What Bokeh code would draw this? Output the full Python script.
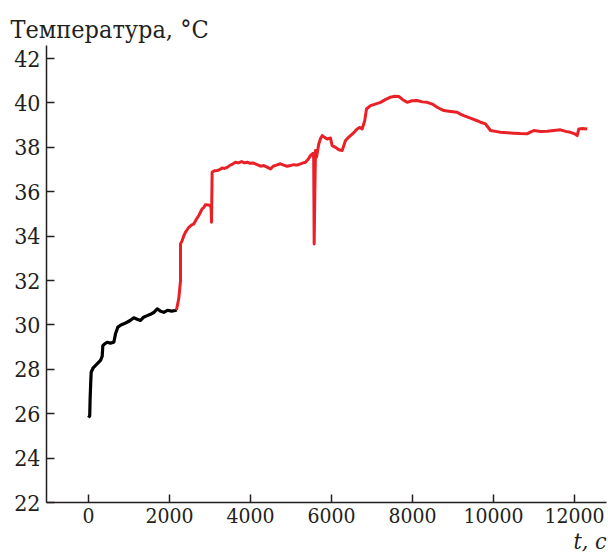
from bokeh.plotting import figure
from bokeh.models import Range1d, FixedTicker, Title
from bokeh.embed import file_html
from bokeh.resources import INLINE

# ---- data ----
t_black = [0, 30, 40, 55, 66, 116, 200, 296, 338, 354, 400, 461, 540, 625, 667, 724,
           800, 872, 950, 1030, 1119, 1200, 1284, 1360, 1449, 1530, 1610, 1696, 1780,
           1860, 1950, 2050, 2148, 2173]
T_black = [25.82, 25.9, 26.67, 27.4, 27.87, 28.07, 28.22, 28.4, 28.58, 29.07, 29.15, 29.22,
           29.18, 29.22, 29.6, 29.9, 30.0, 30.05, 30.12, 30.2, 30.32, 30.26, 30.2, 30.35,
           30.42, 30.48, 30.56, 30.72, 30.62, 30.57, 30.66, 30.62, 30.65, 30.68]

t_red = [2173, 2230, 2272, 2272, 2313, 2350, 2395, 2440, 2477, 2540, 2600, 2660, 2723,
         2770, 2806, 2850, 2889, 2950, 3012, 3030, 3037, 3053, 3110, 3177, 3240, 3300,
         3360, 3424, 3500, 3560, 3630, 3700, 3780, 3850, 3917, 3990, 4060, 4164, 4250,
         4330, 4420, 4494, 4560, 4640, 4741, 4820, 4900, 4988, 5060, 5150, 5235, 5300,
         5358, 5420, 5481, 5520, 5547, 5560, 5572, 5588, 5605, 5630, 5687, 5730, 5770,
         5830, 5893, 5975, 6016, 6100, 6181, 6263, 6346, 6420, 6510, 6570, 6634, 6700,
         6757, 6820, 6864, 6963, 7080, 7210, 7330, 7457, 7560, 7662, 7760, 7868, 7990,
         8115, 8240, 8362, 8490, 8609, 8700, 8773, 8940, 9103, 9180, 9267, 9430, 9597,
         9700, 9802, 9926, 10050, 10173, 10340, 10502, 10660, 10831, 10920, 10996,
         11160, 11325, 11490, 11654, 11780, 11901, 11990, 12066, 12107, 12200, 12313]
T_red = [30.68, 31.2, 32.0, 33.65, 33.8, 34.0, 34.18, 34.3, 34.4, 34.5, 34.55, 34.75, 34.93,
         35.1, 35.23, 35.3, 35.42, 35.4, 35.38, 35.2, 34.63, 36.88, 36.95, 36.96, 37.0,
         37.07, 37.05, 37.1, 37.2, 37.25, 37.33, 37.3, 37.36, 37.3, 37.33, 37.28, 37.3,
         37.22, 37.15, 37.18, 37.1, 37.03, 37.15, 37.2, 37.26, 37.2, 37.15, 37.18, 37.22,
         37.2, 37.26, 37.3, 37.33, 37.45, 37.63, 37.7, 37.73, 37.5, 33.65, 35.9, 37.86,
         37.55, 38.16, 38.4, 38.53, 38.45, 38.38, 38.42, 38.08, 38.0, 37.89, 37.86, 38.31,
         38.45, 38.6, 38.7, 38.83, 38.9, 38.83, 39.2, 39.73, 39.88, 39.95, 40.03, 40.15,
         40.26, 40.3, 40.29, 40.15, 40.03, 40.1, 40.11, 40.05, 40.03, 39.95, 39.81, 39.72,
         39.66, 39.62, 39.58, 39.5, 39.43, 39.32, 39.2, 39.12, 39.06, 38.76, 38.72, 38.68,
         38.66, 38.64, 38.62, 38.61, 38.7, 38.76, 38.72, 38.73, 38.76, 38.79, 38.72, 38.68,
         38.62, 38.53, 38.83, 38.85, 38.83]

y_ticks = [22, 24, 26, 28, 30, 32, 34, 36, 38, 40, 42]
x_ticks = [0, 2000, 4000, 6000, 8000, 10000, 12000]
y_title = "Температура, °C"
x_title = "t, c"

FONT = "DejaVu Serif Condensed"
INK = "#231f20"
RED = "#ea2027"

p = figure(width=608, height=555, output_backend="svg", toolbar_location=None,
           x_range=Range1d(-1037, 12790), y_range=Range1d(22, 42.59),
           min_border_left=46, min_border_right=2, min_border_top=45, min_border_bottom=53)
p.outline_line_color = None
p.grid.visible = False
p.background_fill_color = "white"
p.border_fill_color = "white"

for ax in (p.xaxis[0], p.yaxis[0]):
    ax.axis_line_color = INK
    ax.axis_line_width = 1.5
    ax.major_tick_line_color = INK
    ax.major_tick_line_width = 1.5
    ax.major_tick_in = 8
    ax.major_tick_out = 0
    ax.minor_tick_line_color = None
    ax.major_label_text_color = INK
    ax.major_label_text_font = FONT

p.yaxis[0].ticker = FixedTicker(ticks=y_ticks)
p.xaxis[0].ticker = FixedTicker(ticks=x_ticks)
p.yaxis[0].major_label_text_font_size = "23px"
p.xaxis[0].major_label_text_font_size = "21px"
p.yaxis[0].major_label_standoff = 6
p.xaxis[0].major_label_standoff = 5

p.line(t_black, T_black, line_color="black", line_width=3.2, line_join="round")
p.line(t_red, T_red, line_color=RED, line_width=3, line_join="round")

p.title = Title(text=y_title, align="left", offset=-36, standoff=4,
                text_font=FONT, text_font_size="25px", text_font_style="normal",
                text_color=INK)
p.add_layout(Title(text=x_title, align="right", standoff=0, offset=0,
                   text_font=FONT, text_font_size="23px", text_font_style="italic",
                   text_color=INK), "below")

open("out.html", "w").write(file_html(p, INLINE))
